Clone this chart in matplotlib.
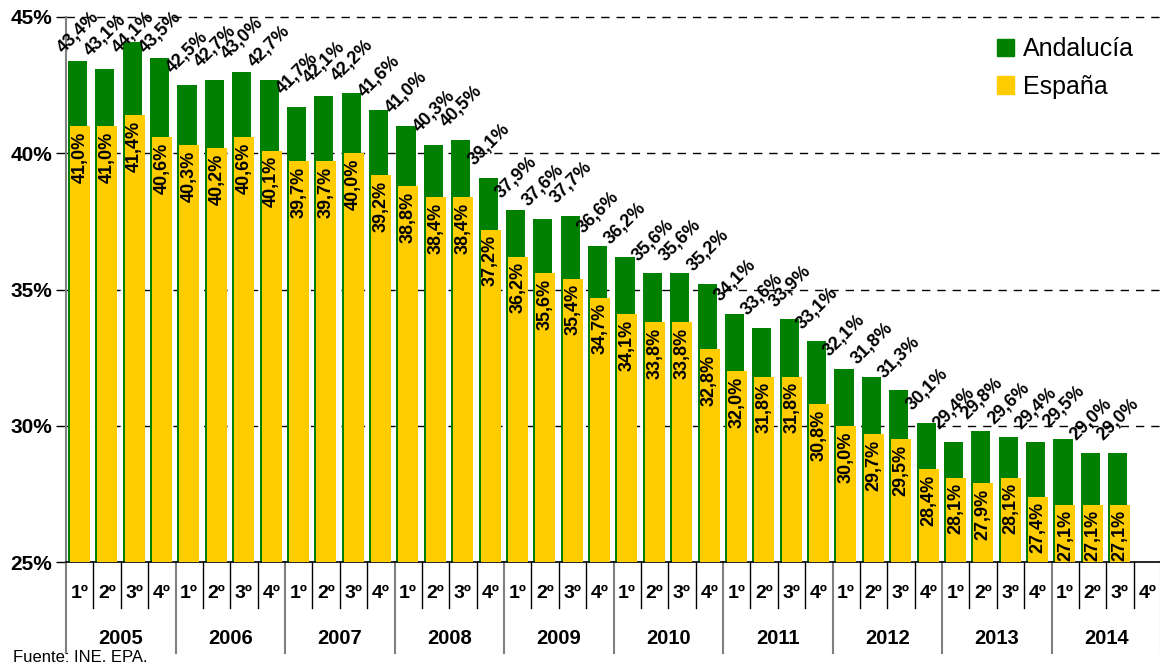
import numpy as np
import matplotlib.pyplot as plt
from matplotlib.patches import Patch
import matplotlib.transforms as mtransforms

plt.rcParams['font.family'] = ['Liberation Sans', 'DejaVu Sans']

# Datos: tasa de riesgo (%) por trimestre, 2005-2014
anios = ["2005", "2006", "2007", "2008", "2009", "2010", "2011", "2012", "2013", "2014"]
trimestres = ["1º", "2º", "3º", "4º"]
andalucia = [43.4, 43.1, 44.1, 43.5, 42.5, 42.7, 43.0, 42.7,
             41.7, 42.1, 42.2, 41.6, 41.0, 40.3, 40.5, 39.1,
             37.9, 37.6, 37.7, 36.6, 36.2, 35.6, 35.6, 35.2,
             34.1, 33.6, 33.9, 33.1, 32.1, 31.8, 31.3, 30.1,
             29.4, 29.8, 29.6, 29.4, 29.5, 29.0, 29.0]
espana = [41.0, 41.0, 41.4, 40.6, 40.3, 40.2, 40.6, 40.1,
          39.7, 39.7, 40.0, 39.2, 38.8, 38.4, 38.4, 37.2,
          36.2, 35.6, 35.4, 34.7, 34.1, 33.8, 33.8, 32.8,
          32.0, 31.8, 31.8, 30.8, 30.0, 29.7, 29.5, 28.4,
          28.1, 27.9, 28.1, 27.4, 27.1, 27.1, 27.1]

verde = "#008000"
amarillo = "#FFCC00"

W, H = 1160, 668
fig = plt.figure(figsize=(W / 100, H / 100), dpi=100)
x0, x1, ytop, ybot = 66, 1161, 17, 562
ax = fig.add_axes([x0 / W, (H - ybot) / H, (x1 - x0) / W, (ybot - ytop) / H])

n_slots = len(anios) * 4
ax.set_xlim(0, n_slots)
ax.set_ylim(25, 45)

pos = np.arange(len(andalucia))
for g in [30, 35, 40, 45]:
    ax.axhline(g, color="black", lw=1, linestyle=(0, (6, 5)), zorder=0, clip_on=False)

ax.bar(pos + 0.42, np.array(andalucia) - 25, width=0.70, bottom=25, color=verde, zorder=2)
ax.bar(pos + 0.51, np.array(espana) - 25, width=0.73, bottom=25, color=amarillo, zorder=3)

def fmt(v):
    return f"{v:.1f}%".replace(".", ",")

# etiquetas de Andalucía: encima de la barra, sin salir del área del gráfico
px_por_unidad = (ybot - ytop) / 20.0
for i, v in enumerate(andalucia):
    top_px = ytop + (45 - v) * px_por_unidad
    cy = max(top_px - 33, 33)
    yv = 45 - (cy - ytop) / px_por_unidad
    ax.text(i + 0.45, yv, fmt(v), rotation=45, ha="center", va="center",
            fontsize=13, fontweight="bold", zorder=5, clip_on=False)
for i, v in enumerate(espana):
    ax.annotate(fmt(v), (i + 0.51, v), xytext=(0, -4), textcoords="offset points",
                rotation=90, rotation_mode="anchor", ha="right", va="center",
                fontsize=13, fontweight="bold", zorder=5)

# ejes
ax.set_yticks([25, 30, 35, 40, 45])
ax.set_yticklabels(["25%", "30%", "35%", "40%", "45%"], fontsize=15, fontweight="bold")
ax.tick_params(axis="y", length=7, width=1, color="black", pad=3)
ax.set_xticks([])
for s in ["top", "right"]:
    ax.spines[s].set_visible(False)
ax.spines["left"].set_color("#808080")
ax.spines["left"].set_linewidth(1.5)
ax.spines["bottom"].set_color("black")
ax.spines["bottom"].set_linewidth(1.2)

# etiquetas de trimestres y años
trans = mtransforms.blended_transform_factory(ax.transData, ax.transAxes)
def ay(py):
    return (ybot - py) / (ybot - ytop)

for k in range(n_slots + 1):
    if k % 4 == 0:
        ax.plot([k, k], [0, ay(653)], color="#808080", lw=1.5, transform=trans, clip_on=False)
    else:
        ax.plot([k, k], [0, ay(608)], color="black", lw=1, transform=trans, clip_on=False)
for k in range(n_slots):
    ax.text(k + 0.5, ay(593), trimestres[k % 4], transform=trans, ha="center", va="center",
            fontsize=14, fontweight="bold")
for j, a in enumerate(anios):
    ax.text(j * 4 + 2, ay(638), a, transform=trans, ha="center", va="center",
            fontsize=14.5, fontweight="bold")

fig.text(13 / W, 1 - 658 / H, "Fuente: INE. EPA.", ha="left", va="center", fontsize=12)

handles = [Patch(color=verde, label="Andalucía"), Patch(color=amarillo, label="España")]
ax.legend(handles=handles, loc="upper left", bbox_to_anchor=((987 - x0) / (x1 - x0), ay(27)),
          frameon=False, fontsize=18, handlelength=0.68, handleheight=0.68,
          handletextpad=0.35, labelspacing=0.55, borderaxespad=0)

fig.savefig("out.png", dpi=100)
